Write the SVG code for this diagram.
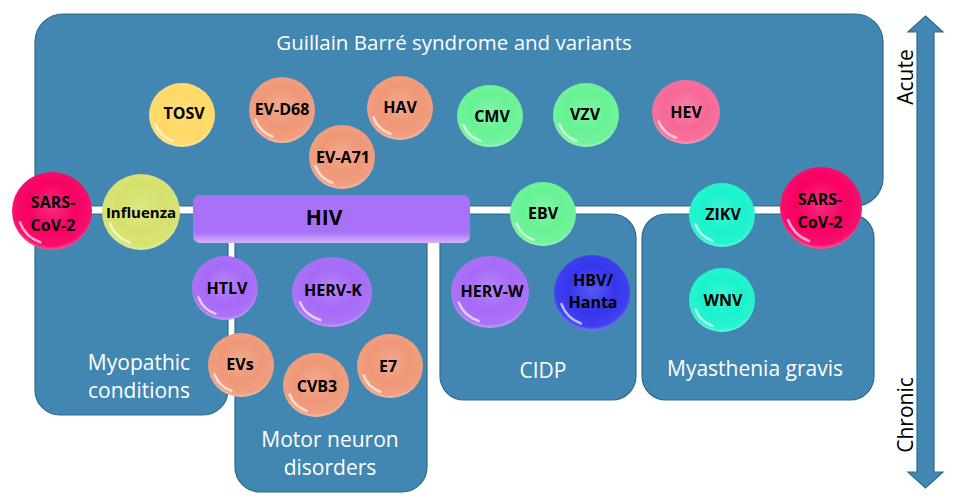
<svg xmlns="http://www.w3.org/2000/svg" xmlns:xlink="http://www.w3.org/1999/xlink" width="957" height="500" viewBox="0 0 957 500">
<style>
.box{fill:#4287B1;stroke:#2F6A8D;stroke-width:1.2}
.lbl{font-family:"Open Sans","Liberation Sans",sans-serif;font-size:21px;fill:#ffffff;text-anchor:middle}
.axis{font-family:"Open Sans","Liberation Sans",sans-serif;font-size:21px;fill:#000000;text-anchor:middle}
.bt{font-family:"Open Sans","Liberation Sans",sans-serif;font-weight:700;font-size:16px;fill:#000000;text-anchor:middle}
.gloss{fill:url(#gloss)}
.hl{fill:none;stroke:#ffffff;stroke-opacity:0.65;stroke-width:2.6;stroke-linecap:round}
.sars{fill:#F70062}
.infl{fill:#D6E16C}
.yel{fill:#FFD966}
.ora{fill:#EF9878}
.grn{fill:#68F294}
.pnk{fill:#F76895}
.teal{fill:#1AF3CC}
.pur{fill:#A66AF7}
.blu{fill:#3535EE}
</style>
<defs>
<radialGradient id="gloss" cx="0.5" cy="0.45" r="0.55">
<stop offset="0" stop-color="#ffffff" stop-opacity="0.18"/>
<stop offset="0.55" stop-color="#ffffff" stop-opacity="0"/>
<stop offset="0.9" stop-color="#ffffff" stop-opacity="0.06"/>
<stop offset="1" stop-color="#ffffff" stop-opacity="0.35"/>
</radialGradient>
<linearGradient id="hivg" x1="0" y1="0" x2="0" y2="1">
<stop offset="0" stop-color="#A872F8"/>
<stop offset="0.78" stop-color="#A872F8"/>
<stop offset="1" stop-color="#D3B4FB"/>
</linearGradient>
<path id="hl" class="hl" vector-effect="non-scaling-stroke" d="M -0.292 0.803 A 0.855 0.855 0 0 1 -0.803 0.292"/>
</defs>

<g id="boxes">
<rect id="gbs" class="box" x="35" y="14" width="848" height="192" rx="28"/>
<path id="myo" class="box" d="M35,214 H228 V390 A25,25 0 0 1 203,415 H60 A25,25 0 0 1 35,390 Z"/>
<path id="mnd" class="box" d="M235,214 H427 V467 A25,25 0 0 1 402,492 H260 A25,25 0 0 1 235,467 Z"/>
<rect id="cidp" class="box" x="440" y="214" width="196" height="186" rx="24"/>
<rect id="mg" class="box" x="642" y="214" width="232" height="186" rx="24"/>
</g>

<g id="axis">
<path class="box" d="M925.5,16 L943,32 L934,32 L934,472 L943,472 L925.5,488 L908,472 L917,472 L917,32 L908,32 Z"/>
<text class="axis" transform="translate(913 77) rotate(-90)">Acute</text>
<text class="axis" transform="translate(913 415) rotate(-90)">Chronic</text>
</g>

<g id="labels">
<text class="lbl" x="454" y="50" style="font-size:20.5px">Guillain Barré syndrome and variants</text>
<text class="lbl" x="139" y="370">Myopathic</text>
<text class="lbl" x="139" y="398">conditions</text>
<text class="lbl" x="330" y="447">Motor neuron</text>
<text class="lbl" x="330" y="475">disorders</text>
<text class="lbl" x="543" y="378">CIDP</text>
<text class="lbl" x="755" y="376">Myasthenia gravis</text>
</g>

<g id="connectors"></g>

<g id="n-hiv">
<rect x="193" y="195" width="277" height="48" rx="7" fill="url(#hivg)"/>
<text class="bt" x="324" y="225" style="font-size:21px">HIV</text>
</g>

<g id="nodes">
<g id="n-sars1"><ellipse class="sars" cx="52" cy="211" rx="40" ry="39"/><ellipse class="gloss" cx="52" cy="211" rx="40" ry="39"/><use xlink:href="#hl" transform="translate(52 211) scale(40 39)"/><text class="bt" x="53" y="208">SARS-</text><text class="bt" x="53" y="231">CoV-2</text></g>
<g id="n-influenza"><ellipse class="infl" cx="141" cy="212" rx="39" ry="38"/><ellipse class="gloss" cx="141" cy="212" rx="39" ry="38"/><use xlink:href="#hl" transform="translate(141 212) scale(39 38)"/><text class="bt" x="141" y="218" style="font-size:15px">Influenza</text></g>
<g id="n-tosv"><ellipse class="yel" cx="182" cy="115" rx="33" ry="32"/><ellipse class="gloss" cx="182" cy="115" rx="33" ry="32"/><use xlink:href="#hl" transform="translate(182 115) scale(33 32)"/><text class="bt" x="184" y="119">TOSV</text></g>
<g id="n-evd68"><ellipse class="ora" cx="282" cy="110" rx="33" ry="33"/><ellipse class="gloss" cx="282" cy="110" rx="33" ry="33"/><use xlink:href="#hl" transform="translate(282 110) scale(33 33)"/><text class="bt" x="282" y="115">EV-D68</text></g>
<g id="n-hav"><ellipse class="ora" cx="400" cy="108" rx="33" ry="32"/><ellipse class="gloss" cx="400" cy="108" rx="33" ry="32"/><use xlink:href="#hl" transform="translate(400 108) scale(33 32)"/><text class="bt" x="400" y="113">HAV</text></g>
<g id="n-eva71"><ellipse class="ora" cx="342" cy="157" rx="33" ry="32"/><ellipse class="gloss" cx="342" cy="157" rx="33" ry="32"/><use xlink:href="#hl" transform="translate(342 157) scale(33 32)"/><text class="bt" x="343" y="163">EV-A71</text></g>
<g id="n-cmv"><ellipse class="grn" cx="490" cy="116" rx="33" ry="31"/><ellipse class="gloss" cx="490" cy="116" rx="33" ry="31"/><use xlink:href="#hl" transform="translate(490 116) scale(33 31)"/><text class="bt" x="492" y="122">CMV</text></g>
<g id="n-vzv"><ellipse class="grn" cx="586" cy="115" rx="33" ry="32"/><ellipse class="gloss" cx="586" cy="115" rx="33" ry="32"/><use xlink:href="#hl" transform="translate(586 115) scale(33 32)"/><text class="bt" x="585" y="120">VZV</text></g>
<g id="n-hev"><ellipse class="pnk" cx="686" cy="112" rx="34" ry="32"/><ellipse class="gloss" cx="686" cy="112" rx="34" ry="32"/><use xlink:href="#hl" transform="translate(686 112) scale(34 32)"/><text class="bt" x="686" y="118">HEV</text></g>
<g id="n-ebv"><ellipse class="grn" cx="543" cy="214" rx="33" ry="32"/><ellipse class="gloss" cx="543" cy="214" rx="33" ry="32"/><use xlink:href="#hl" transform="translate(543 214) scale(33 32)"/><text class="bt" x="543" y="219">EBV</text></g>
<g id="n-zikv"><ellipse class="teal" cx="722" cy="215" rx="33" ry="32"/><ellipse class="gloss" cx="722" cy="215" rx="33" ry="32"/><use xlink:href="#hl" transform="translate(722 215) scale(33 32)"/><text class="bt" x="723" y="220">ZIKV</text></g>
<g id="n-sars2"><ellipse class="sars" cx="821" cy="208" rx="41" ry="41"/><ellipse class="gloss" cx="821" cy="208" rx="41" ry="41"/><use xlink:href="#hl" transform="translate(821 208) scale(41 41)"/><text class="bt" x="820" y="205">SARS-</text><text class="bt" x="820" y="228">CoV-2</text></g>
<g id="n-htlv"><ellipse class="pur" cx="225" cy="288" rx="33" ry="32"/><ellipse class="gloss" cx="225" cy="288" rx="33" ry="32"/><use xlink:href="#hl" transform="translate(225 288) scale(33 32)"/><text class="bt" x="227" y="294">HTLV</text></g>
<g id="n-hervk"><ellipse class="pur" cx="332" cy="292" rx="40" ry="35"/><ellipse class="gloss" cx="332" cy="292" rx="40" ry="35"/><use xlink:href="#hl" transform="translate(332 292) scale(40 35)"/><text class="bt" x="333" y="296">HERV-K</text></g>
<g id="n-evs"><ellipse class="ora" cx="241" cy="365" rx="33" ry="32"/><ellipse class="gloss" cx="241" cy="365" rx="33" ry="32"/><use xlink:href="#hl" transform="translate(241 365) scale(33 32)"/><text class="bt" x="240" y="370">EVs</text></g>
<g id="n-cvb3"><ellipse class="ora" cx="316" cy="385" rx="33" ry="32"/><ellipse class="gloss" cx="316" cy="385" rx="33" ry="32"/><use xlink:href="#hl" transform="translate(316 385) scale(33 32)"/><text class="bt" x="317" y="392">CVB3</text></g>
<g id="n-e7"><ellipse class="ora" cx="390" cy="366" rx="33" ry="32"/><ellipse class="gloss" cx="390" cy="366" rx="33" ry="32"/><use xlink:href="#hl" transform="translate(390 366) scale(33 32)"/><text class="bt" x="388" y="372">E7</text></g>
<g id="n-hervw"><ellipse class="pur" cx="490" cy="292" rx="39" ry="36"/><ellipse class="gloss" cx="490" cy="292" rx="39" ry="36"/><use xlink:href="#hl" transform="translate(490 292) scale(39 36)"/><text class="bt" x="492" y="297">HERV-W</text></g>
<g id="n-hbv"><ellipse class="blu" cx="592" cy="293" rx="38" ry="38"/><ellipse class="gloss" cx="592" cy="293" rx="38" ry="38"/><use xlink:href="#hl" transform="translate(592 293) scale(38 38)"/><text class="bt" x="593" y="286">HBV/</text><text class="bt" x="593" y="308">Hanta</text></g>
<g id="n-wnv"><ellipse class="teal" cx="722" cy="300" rx="33" ry="32"/><ellipse class="gloss" cx="722" cy="300" rx="33" ry="32"/><use xlink:href="#hl" transform="translate(722 300) scale(33 32)"/><text class="bt" x="723" y="306">WNV</text></g>
</g>
</svg>
